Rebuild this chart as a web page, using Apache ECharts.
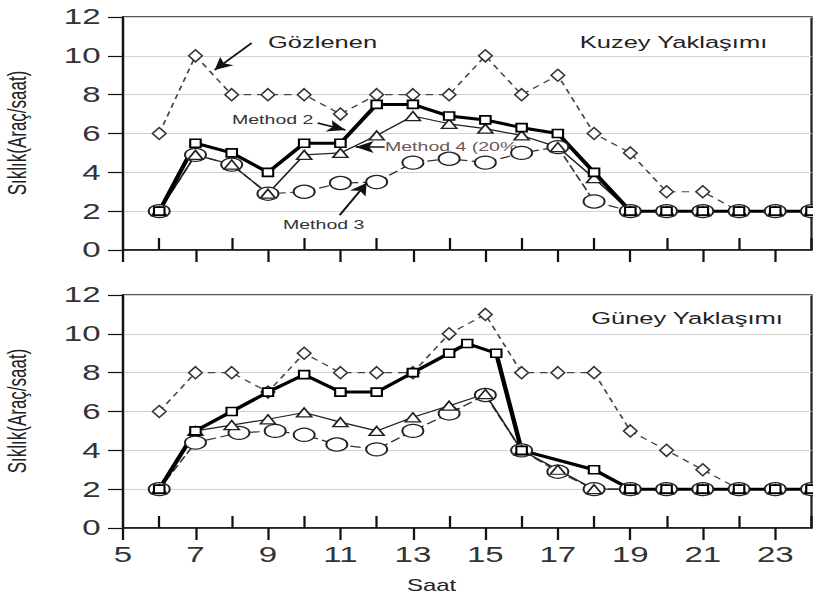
<!DOCTYPE html>
<html><head><meta charset="utf-8">
<script src="https://cdn.jsdelivr.net/npm/echarts@6/dist/echarts.min.js"></script>
<style>
html,body{margin:0;padding:0;background:#fff;overflow:hidden;width:813px;height:597px;}
#wrap{width:542px;height:597px;transform:scaleX(1.5);transform-origin:0 0;}
</style></head><body><div id="wrap"></div>
<script>
// ---- data ----
const hours = [6,7,8,9,10,11,12,13,14,15,16,17,18,19,20,21,22,23,24];
const xTickLabels = [5,7,9,11,13,15,17,19,21,23];
const xInnerTicks = [6,8,10,12,14,16,18,20,22,24];

const kuzeyGozlenen = [6,10,8,8,8,7,8,8,8,10,8,9,6,5,3,3,2,2,2];
const kuzeyMethod2  = [2,5.5,5,4,5.5,5.5,7.5,7.5,6.9,6.7,6.3,6,4,2,2,2,2,2,2];
const kuzeyMethod4  = [2,4.9,4.4,2.9,4.9,5,5.9,6.9,6.5,6.25,5.9,5.3,3.7,2,2,2,2,2,2];
const kuzeyMethod3  = [2,4.9,4.4,2.9,3,3.45,3.5,4.5,4.7,4.5,5,5.3,2.5,2,2,2,2,2,2];

const guneyGozlenen = [6,8,8,7,9,8,8,8,10,11,8,8,8,5,4,3,2,2,2];
const guneyMethod2Hours = [6,7,8,9,10,11,12,13,14,14.5,15.3,16,18,19,20,21,22,23,24];
const guneyMethod2  = [2,5,6,7,7.9,7,7,8,9,9.5,9,4,3,2,2,2,2,2,2];
const guneyMethod4  = [2,5,5.3,5.6,5.95,5.45,5,5.7,6.3,6.9,4,3,2,2,2,2,2,2,2];
const guneyMethod3Hours = [6,7,8.2,9.2,10,10.9,12,13,14,15,16,17,18,19,20,21,22,23,24];
const guneyMethod3  = [2,4.4,4.9,5,4.8,4.3,4.05,5,5.9,6.85,4,2.9,2,2,2,2,2,2,2];

// ---- styles ----
const FONT = '"Liberation Sans", Arial, sans-serif';
const styles = {
  obs: {symbol:'diamond', symbolSize:[9,12], lineStyle:{color:'#444', width:1.2, type:[5,4]}, itemStyle:{color:'#fff', borderColor:'#333', borderWidth:1.3}},
  m3:  {symbol:'circle', symbolSize:[14,13], lineStyle:{color:'#333', width:1.2, type:[7,3]}, itemStyle:{color:'#fff', borderColor:'#222', borderWidth:1.3}},
  m4:  {symbol:'triangle', symbolSize:[10,9], lineStyle:{color:'#222', width:1.2}, itemStyle:{color:'#fff', borderColor:'#222', borderWidth:1.3}},
  m2:  {symbol:'rect', symbolSize:[7,8], lineStyle:{color:'#000', width:3}, itemStyle:{color:'#fff', borderColor:'#000', borderWidth:1.5}}
};
function mk(name, xs, ys, kind, xi, yi, extra) {
  const s = styles[kind];
  return Object.assign({
    name, type:'line', xAxisIndex:xi, yAxisIndex:yi,
    data: xs.map((x,i)=>[x, ys[i]]),
    symbol:s.symbol, symbolSize:s.symbolSize, showSymbol:true,
    lineStyle:s.lineStyle, itemStyle:s.itemStyle,
    emphasis:{disabled:true}, silent:true, animation:false
  }, extra || {});
}

const arrowLines = [
  [[8.55,10.66],[7.53,9.27]],
  [[10.37,6.54],[11.14,6.18]],
  [[12.22,5.30],[11.42,5.30]],
  [[10.98,1.80],[11.72,3.45]]
];

const grids = [
  {left:82, top:17, width:459, height:233, show:true, borderColor:'#222', borderWidth:1.5},
  {left:82, top:295, width:459, height:233, show:true, borderColor:'#222', borderWidth:1.5}
];
function xMain(g, showLabel){
  return {type:'value', gridIndex:g, min:5, max:24, interval:1,
    axisLine:{show:true, lineStyle:{color:'#111', width:1.5}},
    axisTick:{show:true, inside:false, length:12, lineStyle:{color:'#111', width:1.5}, customValues:xTickLabels},
    axisLabel:{show:showLabel, customValues:xTickLabels, fontSize:22, color:'#333', fontFamily:FONT, margin:16},
    splitLine:{show:false}};
}
function xInner(g){
  return {type:'value', gridIndex:g, min:5, max:24, interval:1, position:'bottom',
    axisLine:{show:false},
    axisTick:{show:true, inside:true, length:12, lineStyle:{color:'#111', width:1.5}, customValues:xInnerTicks},
    axisLabel:{show:false}, splitLine:{show:false}};
}
function yAx(g){
  return {type:'value', gridIndex:g, min:0, max:12, interval:2,
    axisLine:{show:true, lineStyle:{color:'#111', width:1.5}},
    axisTick:{show:true, length:10, lineStyle:{color:'#111', width:1.2}},
    axisLabel:{fontSize:22, color:'#333', fontFamily:FONT, margin:15},
    splitLine:{show:true, lineStyle:{color:'#d2d2d2', width:1.2}}};
}
function txt(text, x, y, size, color, align, rot){
  const el = {type:'text', x, y, silent:true,
    style:{text, font: size+'px '+FONT, fill:color, textAlign:align, align:align, textVerticalAlign:'middle', verticalAlign:'middle'}};
  if (rot) el.rotation = rot;
  return el;
}

const option = {
  backgroundColor:'#fff',
  animation:false,
  grid: grids,
  xAxis: [xMain(0,false), xInner(0), xMain(1,true), xInner(1)],
  yAxis: [yAx(0), yAx(1)],
  series: [
    mk('Gözlenen', hours, kuzeyGozlenen, 'obs', 0, 0, {
      markLine:{silent:true, animation:false, symbol:['none','arrow'], symbolSize:[9,12],
        lineStyle:{color:'#111', width:1.5, type:'solid'}, label:{show:false}, emphasis:{disabled:true},
        data: arrowLines.map(a=>[{coord:a[0]},{coord:a[1]}])}
    }),
    mk('Method 3', hours, kuzeyMethod3, 'm3', 0, 0),
    mk('Method 4 (20%)', hours, kuzeyMethod4, 'm4', 0, 0),
    mk('Method 2', hours, kuzeyMethod2, 'm2', 0, 0),
    mk('Gözlenen', hours, guneyGozlenen, 'obs', 2, 1),
    mk('Method 3', guneyMethod3Hours, guneyMethod3, 'm3', 2, 1),
    mk('Method 4 (20%)', hours, guneyMethod4, 'm4', 2, 1),
    mk('Method 2', guneyMethod2Hours, guneyMethod2, 'm2', 2, 1)
  ],
  graphic: [
    txt('Gözlenen', 178.7, 42, 17, '#222', 'left'),
    txt('Kuzey Yaklaşımı', 449, 42, 17, '#222', 'center'),
    txt('Güney Yaklaşımı', 458, 318, 17, '#222', 'center'),
    txt('Method 2', 154.7, 120, 13, '#333', 'left'),
    txt('Method 4 (20%', 256.7, 147, 13, '#6b5757', 'left'),
    txt('Method 3', 188.7, 225, 13, '#333', 'left'),
    txt('Saat', 287.7, 586, 16, '#222', 'center'),
    txt('Sıklık(Araç/saat)', 11.5, 133, 17, '#222', 'center', Math.PI/2),
    txt('Sıklık(Araç/saat)', 11.5, 411, 17, '#222', 'center', Math.PI/2)
  ]
};
const chart = echarts.init(document.getElementById('wrap'), null, {renderer:'svg'});
chart.setOption(option);
</script></body></html>
